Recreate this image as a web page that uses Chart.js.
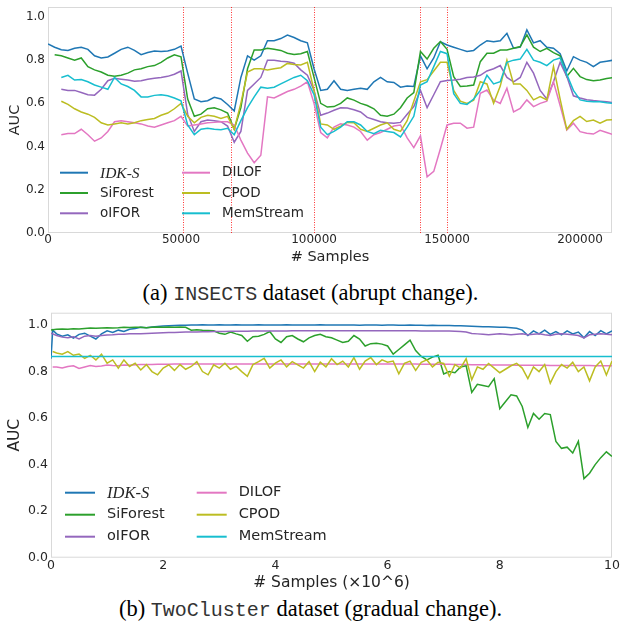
<!DOCTYPE html>
<html>
<head>
<meta charset="utf-8">
<title>AUC over stream</title>
<script src="https://cdn.jsdelivr.net/npm/chart.js@4.4.0/dist/chart.umd.min.js"></script>
<style>
  html, body { margin: 0; padding: 0; background: #fff; }
  #page { position: relative; width: 621px; height: 635px; overflow: hidden; }
  canvas { position: absolute; left: 0; }
  #insects { top: 0; }
  #twocluster { top: 300px; }
  .caption { position: absolute; left: 0; width: 621px; text-align: center; color: #000;
             font-family: "Liberation Serif", "Times New Roman", serif; font-size: 22.5px; line-height: 26px; white-space: nowrap; }
  .caption .mono { font-family: "Liberation Mono", "Courier New", monospace; font-size: 20px; color: #333; }
</style>
</head>
<body>
<div id="page">
  <canvas id="insects" width="621" height="272"></canvas>
  <div class="caption" style="top:280px">(a) <span class="mono">INSECTS</span> dataset (abrupt change).</div>
  <canvas id="twocluster" width="621" height="296"></canvas>
  <div class="caption" style="top:596px">(b) <span class="mono">TwoCluster</span> dataset (gradual change).</div>
</div>
<script>
const methodNames = ["IDK-S", "SiForest", "oIFOR", "DILOF", "CPOD", "MemStream"];
const methodColors = ["#1f77b4", "#2ca02c", "#9467bd", "#e377c2", "#bcbd22", "#17becf"];
const aucTicks = [0, 0.2, 0.4, 0.6, 0.8, 1.0];

// (a) INSECTS: samples seen
const insectsTicks = [0, 50000, 100000, 150000, 200000];
const insectsX = [
  0, 2500, 5000, 7500, 10000, 12500, 15000, 17500, 20000, 22500, 25000, 27500, 30000, 32500, 35000, 37500, 40000, 42500, 45000, 47500,
  50000, 52500, 55000, 57500, 60000, 62500, 65000, 67500, 70000, 72500, 75000, 77500, 80000, 82500, 85000, 87500, 90000, 92500, 95000, 97500,
  100000, 102500, 105000, 107500, 110000, 112500, 115000, 117500, 120000, 122500, 125000, 127500, 130000, 132500, 135000, 137500, 140000, 142500, 145000, 147500,
  150000, 152500, 155000, 157500, 160000, 162500, 165000, 167500, 170000, 172500, 175000, 177500, 180000, 182500, 185000, 187500, 190000, 192500, 195000, 197500,
  200000, 202500, 205000, 207500, 210000, 212500
];
const insectsDrifts = [50700, 68800, 100000, 139800, 150000];

const insectsIDK = [
  0.875, 0.86, 0.848, 0.845, 0.855, 0.86, 0.85, 0.82, 0.81, 0.815, 0.832, 0.85, 0.86, 0.845, 0.825, 0.835, 0.842, 0.84, 0.842, 0.85,
  0.865, 0.74, 0.62, 0.608, 0.612, 0.628, 0.62, 0.595, 0.565, 0.72, 0.82, 0.8, 0.82, 0.89, 0.89, 0.9, 0.916, 0.905, 0.89, 0.88,
  0.76, 0.66, 0.665, 0.705, 0.665, 0.66, 0.665, 0.67, 0.665, 0.7, 0.72, 0.7, 0.697, 0.675, 0.68, 0.678, 0.82, 0.76, 0.81, 0.885,
  0.87, 0.86, 0.85, 0.84, 0.845, 0.87, 0.89, 0.885, 0.89, 0.924, 0.855, 0.86, 0.94, 0.88, 0.89, 0.86, 0.855, 0.83, 0.75, 0.816,
  0.8, 0.79, 0.77, 0.79, 0.795, 0.8
];
const insectsSiForest = [
  null, 0.825, 0.82, 0.81, 0.8, 0.81, 0.77, 0.755, 0.745, 0.73, 0.725, 0.73, 0.74, 0.755, 0.76, 0.77, 0.775, 0.79, 0.81, 0.825,
  0.815, 0.62, 0.54, 0.55, 0.575, 0.58, 0.57, 0.555, 0.48, 0.58, 0.76, 0.847, 0.847, 0.855, 0.85, 0.845, 0.832, 0.826, 0.83, 0.84,
  0.72, 0.6, 0.583, 0.585, 0.6, 0.625, 0.615, 0.6, 0.59, 0.575, 0.545, 0.54, 0.55, 0.58, 0.625, 0.65, 0.84, 0.805, 0.855, 0.886,
  0.85, 0.724, 0.678, 0.68, 0.685, 0.793, 0.832, 0.832, 0.847, 0.847, 0.855, 0.863, 0.917, 0.86, 0.84, 0.855, 0.835, 0.82, 0.724, 0.762,
  0.724, 0.71, 0.705, 0.708, 0.715, 0.72
];
const insectsOIFOR = [
  null, null, 0.665, 0.66, 0.66, 0.65, 0.64, 0.638, 0.665, 0.705, 0.716, 0.712, 0.708, 0.702, 0.705, 0.712, 0.716, 0.72, 0.725, 0.735,
  0.75, 0.55, 0.47, 0.515, 0.523, 0.52, 0.515, 0.495, 0.42, 0.47, 0.66, 0.69, 0.72, 0.8, 0.8, 0.795, 0.793, 0.786, 0.755, 0.73,
  0.66, 0.545, 0.555, 0.568, 0.58, 0.578, 0.57, 0.56, 0.535, 0.525, 0.515, 0.51, 0.508, 0.512, 0.55, 0.585, 0.66, 0.58, 0.64, 0.7,
  0.706, 0.708, 0.712, 0.72, 0.722, 0.73, 0.75, 0.76, 0.775, 0.72, 0.7, 0.72, 0.79, 0.74, 0.66, 0.62, 0.7, 0.79, 0.725, 0.635,
  0.625, 0.617, 0.613, 0.61, 0.607, 0.603
];
const insectsDILOF = [
  null, null, 0.455, 0.46, 0.46, 0.48, 0.455, 0.425, 0.44, 0.47, 0.515, 0.52, 0.515, 0.51, 0.505, 0.495, 0.49, 0.5, 0.51, 0.52,
  0.54, 0.495, 0.5, 0.505, 0.51, 0.512, 0.515, 0.515, 0.5, 0.43, 0.37, 0.325, 0.36, 0.63, 0.625, 0.64, 0.655, 0.665, 0.68, 0.7,
  0.6, 0.465, 0.44, 0.49, 0.505, 0.5, 0.49, 0.47, 0.43, 0.455, 0.465, 0.48, 0.495, 0.5, 0.44, 0.395, 0.45, 0.26, 0.285, 0.39,
  0.5, 0.508, 0.508, 0.485, 0.49, 0.647, 0.662, 0.615, 0.6, 0.67, 0.56, 0.577, 0.616, 0.585, 0.6, 0.61, 0.7, 0.59, 0.477, 0.508,
  0.469, 0.462, 0.458, 0.475, 0.465, 0.455
];
const insectsCPOD = [
  null, null, 0.61, 0.595, 0.575, 0.56, 0.55, 0.535, 0.51, 0.5, 0.505, 0.51, 0.505, 0.51, 0.52, 0.525, 0.53, 0.545, 0.555, 0.575,
  0.6, 0.54, 0.51, 0.535, 0.545, 0.54, 0.53, 0.54, 0.48, 0.6, 0.745, 0.76, 0.76, 0.755, 0.76, 0.765, 0.785, 0.78, 0.778, 0.79,
  0.66, 0.505, 0.5, 0.48, 0.495, 0.512, 0.51, 0.48, 0.47, 0.485, 0.5, 0.51, 0.48, 0.47, 0.52, 0.61, 0.7, 0.71, 0.75, 0.79,
  0.79, 0.66, 0.61, 0.6, 0.615, 0.7, 0.69, 0.6, 0.68, 0.8, 0.69, 0.69, 0.66, 0.616, 0.631, 0.616, 0.77, 0.62, 0.48, 0.52,
  0.54, 0.516, 0.523, 0.508, 0.523, 0.525
];
const insectsMemStream = [
  null, null, 0.72, 0.73, 0.708, 0.71, 0.7, 0.685, 0.675, 0.665, 0.72, 0.69, 0.678, 0.66, 0.63, 0.63, 0.637, 0.64, 0.635, 0.625,
  0.612, 0.5, 0.455, 0.48, 0.485, 0.48, 0.478, 0.485, 0.455, 0.52, 0.58, 0.63, 0.675, 0.67, 0.675, 0.69, 0.705, 0.72, 0.73, 0.705,
  0.64, 0.49, 0.455, 0.47, 0.49, 0.515, 0.515, 0.5, 0.47, 0.46, 0.475, 0.47, 0.465, 0.445, 0.49, 0.54, 0.685, 0.7, 0.77, 0.84,
  0.83, 0.645, 0.6, 0.595, 0.62, 0.66, 0.73, 0.69, 0.7, 0.79, 0.8, 0.805, 0.85, 0.8, 0.79, 0.775, 0.8, 0.81, 0.735, 0.66,
  0.616, 0.61, 0.608, 0.608, 0.603, 0.6
];

// (b) TwoCluster: samples seen, x10^6
const twoClusterTicks = [0, 2, 4, 6, 8, 10];
const twoClusterX = [
  0, 0.03, 0.1, 0.2, 0.3, 0.4, 0.5, 0.6, 0.7, 0.8, 0.9, 1.0,
  1.1, 1.2, 1.3, 1.4, 1.5, 1.6, 1.7, 1.8, 1.9, 2.0,
  2.1, 2.2, 2.3, 2.4, 2.5, 2.6, 2.7, 2.8, 2.9, 3.0,
  3.1, 3.2, 3.3, 3.4, 3.5, 3.6, 3.7, 3.8, 3.9, 4.0,
  4.1, 4.2, 4.3, 4.4, 4.5, 4.6, 4.7, 4.8, 4.9, 5.0,
  5.1, 5.2, 5.3, 5.4, 5.5, 5.6, 5.7, 5.8, 5.9, 6.0,
  6.1, 6.2, 6.3, 6.4, 6.5, 6.6, 6.7, 6.8, 6.9, 7.0,
  7.1, 7.2, 7.3, 7.4, 7.5, 7.6, 7.7, 7.8, 7.9, 8.0,
  8.1, 8.2, 8.3, 8.4, 8.5, 8.6, 8.7, 8.8, 8.9, 9.0,
  9.1, 9.2, 9.3, 9.4, 9.5, 9.6, 9.7, 9.8, 9.9, 10.0
];
const twoClusterIDK = [
  0.855, 0.978, 0.962, 0.952, 0.958, 0.944, 0.96, 0.965, 0.952, 0.94, 0.962, 0.975,
  0.968, 0.978, 0.972, 0.982, 0.985, 0.99, 0.988, 0.992, 0.994, 0.996,
  0.997, 0.998, 0.999, 0.999, 1.0, 1.0, 1.001, 1.0, 1.0, 1.001,
  1.0, 1.0, 1.001, 1.0, 1.0, 1.0, 1.001, 1.0, 1.0, 1.0,
  1.0, 1.001, 1.0, 1.0, 1.0, 1.0, 1.0, 1.001, 1.0, 1.0,
  1.0, 1.0, 1.0, 1.0, 0.999, 1.0, 1.0, 1.0, 0.999, 1.0,
  1.0, 0.999, 0.999, 1.0, 0.999, 0.999, 0.998, 0.999, 0.998, 0.998,
  0.998, 0.997, 0.997, 0.996, 0.995, 0.994, 0.993, 0.993, 0.992, 0.99,
  0.99, 0.988, 0.986, 0.978, 0.955, 0.975, 0.962, 0.978, 0.96, 0.972,
  0.958, 0.975, 0.962, 0.97, 0.945, 0.972, 0.955, 0.976, 0.962, 0.975
];
const twoClusterSiForest = [
  0.978, 0.98, 0.982, 0.983, 0.982, 0.984, 0.983, 0.985, 0.987, 0.986, 0.987, 0.988,
  0.987, 0.988, 0.99, 0.989, 0.99, 0.99, 0.988, 0.99, 0.991, 0.99,
  0.992, 0.991, 0.992, 0.99, 0.978, 0.98, 0.978, 0.977, 0.975, 0.965,
  0.96, 0.97, 0.962, 0.955, 0.93, 0.95, 0.952, 0.96, 0.972, 0.94,
  0.925, 0.95, 0.955, 0.94, 0.928, 0.945, 0.955, 0.96, 0.95, 0.945,
  0.935, 0.925, 0.93, 0.955, 0.94, 0.91, 0.92, 0.922, 0.918, 0.91,
  0.875, 0.895, 0.915, 0.935, 0.89, 0.865, 0.85, 0.862, 0.87, 0.79,
  0.8, 0.795, 0.82, 0.825, 0.71, 0.745, 0.74, 0.735, 0.77, 0.64,
  0.67, 0.7, 0.695, 0.65, 0.56, 0.62, 0.595, 0.62, 0.615, 0.5,
  0.47, 0.475, 0.45, 0.5, 0.34, 0.363, 0.4, 0.43, 0.455, 0.435
];
const twoClusterOIFOR = [
  0.965, 0.962, 0.955, 0.948, 0.945, 0.95, 0.94, 0.952, 0.955, 0.952, 0.955, 0.957,
  0.958, 0.96, 0.96, 0.962, 0.963, 0.963, 0.964, 0.965, 0.966, 0.967,
  0.968, 0.968, 0.969, 0.97, 0.97, 0.97, 0.971, 0.971, 0.972, 0.972,
  0.972, 0.973, 0.973, 0.973, 0.973, 0.974, 0.974, 0.974, 0.974, 0.974,
  0.974, 0.974, 0.975, 0.975, 0.975, 0.975, 0.975, 0.975, 0.975, 0.975,
  0.975, 0.975, 0.975, 0.975, 0.975, 0.975, 0.975, 0.975, 0.975, 0.975,
  0.975, 0.975, 0.975, 0.975, 0.975, 0.974, 0.974, 0.974, 0.974, 0.974,
  0.974, 0.973, 0.972, 0.97, 0.964, 0.962, 0.96, 0.958, 0.96, 0.962,
  0.96, 0.958, 0.96, 0.962, 0.958, 0.96, 0.962, 0.958, 0.955, 0.96,
  0.962, 0.96, 0.958, 0.955, 0.945, 0.958, 0.96, 0.962, 0.96, 0.958
];
const twoClusterDILOF = [
  null, 0.82, 0.82, 0.815, 0.822, 0.825, 0.813, 0.82, 0.826, 0.822, 0.824, 0.828,
  0.826, 0.825, 0.828, 0.827, 0.829, 0.83, 0.83, 0.83, 0.831, 0.831,
  0.831, 0.832, 0.832, 0.832, 0.832, 0.832, 0.832, 0.832, 0.832, 0.832,
  0.832, 0.832, 0.832, 0.832, 0.832, 0.832, 0.832, 0.832, 0.832, 0.832,
  0.832, 0.832, 0.832, 0.832, 0.832, 0.832, 0.832, 0.832, 0.832, 0.832,
  0.832, 0.832, 0.832, 0.832, 0.832, 0.832, 0.832, 0.832, 0.832, 0.832,
  0.832, 0.832, 0.832, 0.832, 0.832, 0.831, 0.831, 0.831, 0.831, 0.831,
  0.831, 0.83, 0.83, 0.83, 0.829, 0.829, 0.829, 0.828, 0.828, 0.828,
  0.828, 0.828, 0.827, 0.827, 0.827, 0.827, 0.827, 0.827, 0.826, 0.826,
  0.826, 0.826, 0.826, 0.826, 0.826, 0.826, 0.825, 0.825, 0.825, 0.825
];
const twoClusterCPOD = [
  null, 0.886, 0.88, 0.875, 0.886, 0.87, 0.875, 0.857, 0.87, 0.85, 0.875, 0.836,
  0.85, 0.815, 0.85, 0.822, 0.836, 0.807, 0.83, 0.8, 0.786, 0.815,
  0.829, 0.805, 0.83, 0.81, 0.822, 0.843, 0.8, 0.786, 0.829, 0.815,
  0.836, 0.81, 0.822, 0.8, 0.78, 0.83, 0.843, 0.857, 0.815, 0.836,
  0.85, 0.82, 0.843, 0.829, 0.815, 0.843, 0.8, 0.84, 0.82, 0.855,
  0.83, 0.845, 0.82, 0.86, 0.81, 0.845, 0.86, 0.83, 0.85, 0.84,
  0.845, 0.79, 0.835, 0.845, 0.805, 0.84, 0.85, 0.82, 0.84, 0.835,
  0.78, 0.83, 0.815, 0.855, 0.765, 0.82, 0.81, 0.835, 0.815, 0.795,
  0.81, 0.825, 0.835, 0.815, 0.77, 0.82, 0.8, 0.83, 0.75, 0.8,
  0.83, 0.815, 0.84, 0.8, 0.82, 0.76, 0.82, 0.845, 0.785, 0.845
];
const memStreamX = [0, 10];
const twoClusterMemStream = [0.865, 0.865];

// frame, drift markers and the two-column legend
const chartDecor = {
  id: "chartDecor",
  beforeDatasetsDraw(chart, args, opts) {
    const ctx = chart.ctx;
    const a = chart.chartArea;
    ctx.save();
    ctx.strokeStyle = "#d9d9d9";
    ctx.lineWidth = 1;
    ctx.strokeRect(a.left + 0.5, a.top + 0.5, a.right - a.left - 1, a.bottom - a.top - 1);
    ctx.strokeStyle = "rgba(255, 0, 0, 0.8)";
    ctx.setLineDash([1, 1.5]);
    (opts.drifts || []).forEach(v => {
      const px = Math.round(chart.scales.x.getPixelForValue(v)) + 0.5;
      ctx.beginPath();
      ctx.moveTo(px, a.top);
      ctx.lineTo(px, a.bottom);
      ctx.stroke();
    });
    ctx.restore();
  },
  afterDatasetsDraw(chart, args, opts) {
    const ctx = chart.ctx;
    const a = chart.chartArea;
    const L = opts.legend;
    ctx.save();
    ctx.textBaseline = "middle";
    chart.data.datasets.forEach((ds, i) => {
      const col = Math.floor(i / 3), row = i % 3;
      const x0 = a.left + L.left + col * L.colStep;
      const y = a.bottom - L.rowTop + row * L.rowStep;
      ctx.strokeStyle = ds.borderColor;
      ctx.lineWidth = 2;
      ctx.beginPath();
      ctx.moveTo(x0, y);
      ctx.lineTo(x0 + L.lineLen, y);
      ctx.stroke();
      ctx.fillStyle = "#262626";
      ctx.font = i === 0 ? `italic ${L.size + 2}px "Liberation Serif", serif` : `${L.size}px "DejaVu Sans", sans-serif`;
      ctx.fillText(ds.label, x0 + L.lineLen + L.gap, y + (i === 0 ? 1 : 0));
    });
    ctx.restore();
  }
};

function buildDatasets(xs, seriesList, extraX) {
  return seriesList.map((ys, i) => {
    const xv = (extraX && extraX[i]) || xs;
    return {
      label: methodNames[i],
      data: xv.map((x, k) => ({ x: x, y: ys[k] })),
      borderColor: methodColors[i],
      backgroundColor: methodColors[i],
      borderWidth: 1.5,
      pointRadius: 0,
      fill: false,
      tension: 0,
      order: 5 - i
    };
  });
}

function makeChart(id, cfg) {
  return new Chart(document.getElementById(id), {
    type: "line",
    data: { datasets: cfg.datasets },
    options: {
      responsive: false,
      animation: false,
      devicePixelRatio: 1,
      layout: { padding: cfg.padding },
      plugins: {
        legend: { display: false },
        tooltip: { enabled: false },
        chartDecor: { drifts: cfg.drifts, legend: cfg.legend }
      },
      scales: {
        x: {
          type: "linear",
          min: cfg.xMin, max: cfg.xMax,
          grid: { display: false, drawTicks: false },
          border: { display: false },
          afterBuildTicks: s => { s.ticks = cfg.xTicks.map(v => ({ value: v })); },
          ticks: { maxRotation: 0, autoSkip: false,
                   padding: cfg.xTickPad, color: "#262626", font: { size: cfg.tickSize },
                   callback: v => String(v) },
          title: { display: true, text: cfg.xTitle, color: "#262626", font: { size: cfg.titleSize },
                   padding: { top: 0, bottom: cfg.xTitlePad } },
          afterFit: s => { s.height = cfg.xHeight; s.paddingLeft = 0; s.paddingRight = 0; }
        },
        y: {
          type: "linear",
          min: 0, max: cfg.yMax,
          grid: { display: false, drawTicks: false },
          border: { display: false },
          afterBuildTicks: s => { s.ticks = aucTicks.map(v => ({ value: v })); },
          ticks: { padding: 3, color: "#262626", font: { size: cfg.tickSize },
                   callback: v => v.toFixed(1) },
          title: { display: true, text: "AUC", color: "#262626", font: { size: cfg.titleSize },
                   padding: { top: cfg.yTitlePad, bottom: 0 } },
          afterFit: s => { s.width = cfg.yWidth; s.paddingTop = 0; s.paddingBottom = 0; }
        }
      }
    },
    plugins: [chartDecor]
  });
}

Chart.defaults.font.family = '"DejaVu Sans", sans-serif';

makeChart("insects", {
  datasets: buildDatasets(insectsX, [insectsIDK, insectsSiForest, insectsOIFOR, insectsDILOF, insectsCPOD, insectsMemStream]),
  padding: { left: 0, right: 9, top: 7, bottom: 0 },
  xMin: 0, xMax: 212000, xTicks: insectsTicks, yMax: 1.046,
  xTitle: "# Samples", tickSize: 12, titleSize: 14.5,
  xTickPad: 0, xTitlePad: 6, yTitlePad: 6.3,
  xHeight: 39, yWidth: 48,
  drifts: insectsDrifts,
  legend: { left: 12, lineLen: 28, gap: 12, colStep: 122, rowTop: 60.3, rowStep: 20.3, size: 13.5 }
});

makeChart("twocluster", {
  datasets: buildDatasets(twoClusterX,
    [twoClusterIDK, twoClusterSiForest, twoClusterOIFOR, twoClusterDILOF, twoClusterCPOD, twoClusterMemStream],
    [null, null, null, null, null, memStreamX]),
  padding: { left: 0, right: 9, top: 12.7, bottom: 0 },
  xMin: 0, xMax: 10, xTicks: twoClusterTicks, yMax: 1.053,
  xTitle: "# Samples (\u00d710^6)", tickSize: 12.5, titleSize: 15.5,
  xTickPad: 1, xTitlePad: 3.7, yTitlePad: 5.7,
  xHeight: 38.3, yWidth: 51,
  drifts: [],
  legend: { left: 14, lineLen: 30, gap: 12, colStep: 131.7, rowTop: 65, rowStep: 22, size: 14.5 }
});
</script>
</body>
</html>
